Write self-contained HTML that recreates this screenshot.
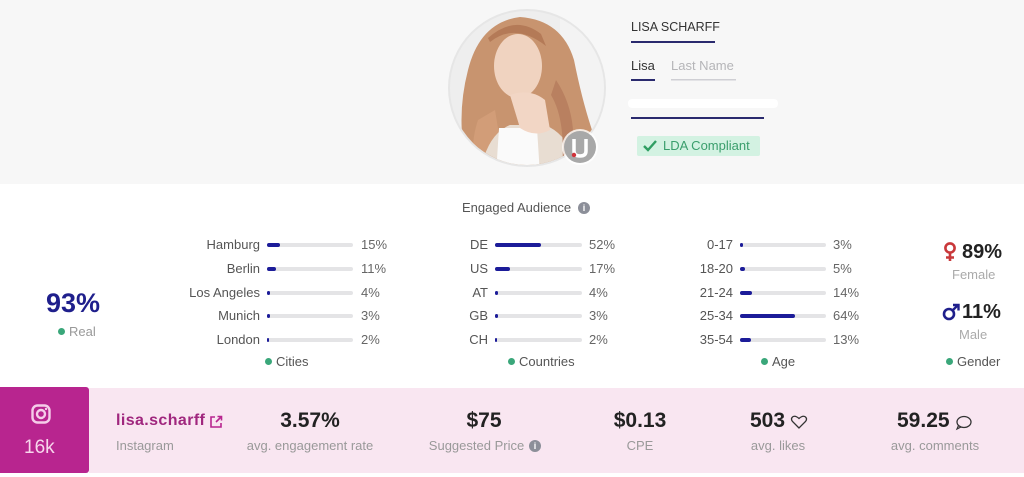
<!DOCTYPE html>
<html><head><meta charset="utf-8">
<style>
*{margin:0;padding:0;box-sizing:border-box}
body{width:1024px;height:477px;overflow:hidden;background:#fff;font-family:"Liberation Sans",Arial,sans-serif;position:relative;color:#555}
.a{position:absolute;white-space:nowrap}
.hdr{position:absolute;left:0;top:0;width:1024px;height:184px;background:#f7f7f7}
.lbl{position:absolute;font-size:13px;color:#555;text-align:right;width:120px;line-height:16px}
.pct{position:absolute;font-size:13px;color:#666;line-height:16px}
.bg{position:absolute;height:4px;background:#e4e4e6;border-radius:2px}
.fg{position:absolute;left:0;top:0;height:4px;background:#1c1c99;border-radius:2px}
.dot{display:inline-block;width:7px;height:7px;border-radius:50%;background:#3aa77a;margin-right:4px;vertical-align:1px}
.leg{position:absolute;font-size:13px;color:#555;line-height:16px}
.big{position:absolute;font-weight:bold;color:#222;text-align:center;line-height:24px}
.sub{position:absolute;font-size:13px;color:#999;text-align:center;line-height:16px}
</style></head><body>
<div class="hdr"></div>

<svg class="a" style="left:0;top:0" width="1024" height="184">
<defs><clipPath id="c"><circle cx="527" cy="88" r="77"/></clipPath></defs>
<circle cx="527" cy="88" r="79" fill="#e6e6e6"/>
<g clip-path="url(#c)">
<rect x="440" y="0" width="180" height="180" fill="#eeeeee"/>
<rect x="560" y="10" width="70" height="160" fill="#f3f3f3"/>
<path d="M468 170 Q455 120 468 70 Q480 22 520 17 Q562 20 574 60 Q582 100 592 130 Q602 160 588 175 Z" fill="#c8946f"/>
<path d="M478 120 Q468 150 478 175 L505 175 Q500 140 495 110 Z" fill="#d29d78"/>
<ellipse cx="518" cy="66" rx="24" ry="32" fill="#f0d3c0"/>
<path d="M490 42 Q515 22 546 46 L541 34 Q515 14 488 38 Z" fill="#b47a57"/>
<path d="M480 175 Q486 135 510 125 L545 125 Q570 135 582 175 Z" fill="#e8ddd2"/>
<path d="M496 175 L499 128 L537 128 L540 175 Z" fill="#fafafa"/>
<path d="M510 95 Q530 88 545 100 L550 130 Q535 138 520 128 Z" fill="#f2d6c5"/>
<path d="M556 80 Q576 110 573 150 L562 170 Q566 120 551 95 Z" fill="#b98060"/>
</g>
<circle cx="580" cy="147" r="18" fill="#fff" opacity=".8"/>
<circle cx="580" cy="147" r="16" fill="#a8a8a8"/>
<path d="M574 139 L574 151 Q574 156 580 156 Q586 156 586 151 L586 139" stroke="#fff" stroke-width="3.5" fill="none"/>
<circle cx="574" cy="155" r="2.2" fill="#d0323a"/>
<rect x="631" y="41" width="84" height="2" fill="#2a2a6e"/>
<rect x="631" y="79" width="24" height="2" fill="#2a2a6e"/>
<rect x="671" y="79" width="65" height="1.5" fill="#cfcfd4"/>
<rect x="628" y="99" width="150" height="9" rx="4" fill="#ffffff"/>
<rect x="631" y="117" width="133" height="2" fill="#2a2a6e"/>
<rect x="637" y="136" width="123" height="20" rx="2" fill="#d3f2e2"/>
<path d="M644 146 L648 150 L656 141" stroke="#2f9e62" stroke-width="2.4" fill="none"/>
</svg>
<div class="a" style="left:631px;top:20px;font-size:12.5px;color:#333">LISA SCHARFF</div>
<div class="a" style="left:631px;top:58px;font-size:13px;color:#333">Lisa</div>
<div class="a" style="left:671px;top:58px;font-size:13px;color:#b5b5b8">Last Name</div>
<div class="a" style="left:663px;top:138px;font-size:13px;color:#3a9e6c">LDA Compliant</div>

<div class="a" style="left:462px;top:200px;font-size:13px;color:#555">Engaged Audience</div>
<div class="a" style="left:578px;top:202px;width:12px;height:12px;border-radius:50%;background:#8c8f99;color:#fff;font-size:9px;font-weight:bold;text-align:center;line-height:12px">i</div>

<!-- Real -->
<div class="a" style="left:46px;top:288px;font-size:27px;font-weight:bold;color:#1f1f8c">93%</div>
<div class="a" style="left:58px;top:324px;font-size:13px;color:#999"><span class="dot"></span>Real</div>

<!-- Cities -->
<div class="lbl" style="left:140px;top:237px">Hamburg</div>
<div class="lbl" style="left:140px;top:261px">Berlin</div>
<div class="lbl" style="left:140px;top:285px">Los Angeles</div>
<div class="lbl" style="left:140px;top:308px">Munich</div>
<div class="lbl" style="left:140px;top:332px">London</div>
<div class="bg" style="left:267px;top:243px;width:86px"><div class="fg" style="width:13px"></div></div>
<div class="bg" style="left:267px;top:267px;width:86px"><div class="fg" style="width:9px"></div></div>
<div class="bg" style="left:267px;top:291px;width:86px"><div class="fg" style="width:3px"></div></div>
<div class="bg" style="left:267px;top:314px;width:86px"><div class="fg" style="width:3px"></div></div>
<div class="bg" style="left:267px;top:338px;width:86px"><div class="fg" style="width:2px"></div></div>
<div class="pct" style="left:361px;top:237px">15%</div>
<div class="pct" style="left:361px;top:261px">11%</div>
<div class="pct" style="left:361px;top:285px">4%</div>
<div class="pct" style="left:361px;top:308px">3%</div>
<div class="pct" style="left:361px;top:332px">2%</div>
<div class="leg" style="left:265px;top:354px"><span class="dot"></span>Cities</div>

<!-- Countries -->
<div class="lbl" style="left:368px;top:237px">DE</div>
<div class="lbl" style="left:368px;top:261px">US</div>
<div class="lbl" style="left:368px;top:285px">AT</div>
<div class="lbl" style="left:368px;top:308px">GB</div>
<div class="lbl" style="left:368px;top:332px">CH</div>
<div class="bg" style="left:495px;top:243px;width:87px"><div class="fg" style="width:46px"></div></div>
<div class="bg" style="left:495px;top:267px;width:87px"><div class="fg" style="width:15px"></div></div>
<div class="bg" style="left:495px;top:291px;width:87px"><div class="fg" style="width:3px"></div></div>
<div class="bg" style="left:495px;top:314px;width:87px"><div class="fg" style="width:3px"></div></div>
<div class="bg" style="left:495px;top:338px;width:87px"><div class="fg" style="width:2px"></div></div>
<div class="pct" style="left:589px;top:237px">52%</div>
<div class="pct" style="left:589px;top:261px">17%</div>
<div class="pct" style="left:589px;top:285px">4%</div>
<div class="pct" style="left:589px;top:308px">3%</div>
<div class="pct" style="left:589px;top:332px">2%</div>
<div class="leg" style="left:508px;top:354px"><span class="dot"></span>Countries</div>

<!-- Age -->
<div class="lbl" style="left:613px;top:237px">0-17</div>
<div class="lbl" style="left:613px;top:261px">18-20</div>
<div class="lbl" style="left:613px;top:285px">21-24</div>
<div class="lbl" style="left:613px;top:308px">25-34</div>
<div class="lbl" style="left:613px;top:332px">35-54</div>
<div class="bg" style="left:740px;top:243px;width:86px"><div class="fg" style="width:3px"></div></div>
<div class="bg" style="left:740px;top:267px;width:86px"><div class="fg" style="width:5px"></div></div>
<div class="bg" style="left:740px;top:291px;width:86px"><div class="fg" style="width:12px"></div></div>
<div class="bg" style="left:740px;top:314px;width:86px"><div class="fg" style="width:55px"></div></div>
<div class="bg" style="left:740px;top:338px;width:86px"><div class="fg" style="width:11px"></div></div>
<div class="pct" style="left:833px;top:237px">3%</div>
<div class="pct" style="left:833px;top:261px">5%</div>
<div class="pct" style="left:833px;top:285px">14%</div>
<div class="pct" style="left:833px;top:308px">64%</div>
<div class="pct" style="left:833px;top:332px">13%</div>
<div class="leg" style="left:761px;top:354px"><span class="dot"></span>Age</div>

<!-- Gender -->
<svg class="a" style="left:940px;top:240px" width="22" height="24"><circle cx="10" cy="8" r="4.6" fill="none" stroke="#c9383a" stroke-width="2.6"/><path d="M10 12.5 V21 M6 17.5 H14" stroke="#c9383a" stroke-width="2.6"/></svg>
<div class="a" style="left:962px;top:240px;font-size:20px;font-weight:bold;color:#222;line-height:24px">89%</div>
<div class="a" style="left:952px;top:267px;font-size:13px;color:#aaa">Female</div>
<svg class="a" style="left:940px;top:300px" width="22" height="24"><circle cx="9" cy="14" r="5" fill="none" stroke="#1f1f8c" stroke-width="2.6"/><path d="M12.5 10.5 L18 5 M13 5 H18.5 V10.5" fill="none" stroke="#1f1f8c" stroke-width="2.4"/></svg>
<div class="a" style="left:962px;top:300px;font-size:20px;font-weight:bold;color:#222;line-height:24px">11%</div>
<div class="a" style="left:959px;top:327px;font-size:13px;color:#aaa">Male</div>
<div class="leg" style="left:946px;top:354px"><span class="dot"></span>Gender</div>

<!-- bottom band -->
<div class="a" style="left:89px;top:388px;width:935px;height:85px;background:#f9e6f1"></div>
<div class="a" style="left:0;top:387px;width:89px;height:86px;background:#b8258f;border-radius:0 3px 3px 0"></div>
<svg class="a" style="left:31px;top:404px" width="20" height="20"><rect x="1.5" y="1.5" width="17" height="17" rx="5" fill="none" stroke="#f5cde9" stroke-width="2.4"/><circle cx="10" cy="10" r="4" fill="none" stroke="#f5cde9" stroke-width="2.4"/><circle cx="15" cy="5" r="1.2" fill="#f5cde9"/></svg>
<div class="a" style="left:24px;top:437px;font-size:19px;color:#f7d6ec">16k</div>

<div class="a" style="left:116px;top:412px;font-size:16px;font-weight:bold;color:#a0277e;letter-spacing:.4px">lisa.scharff</div>
<svg class="a" style="left:209px;top:415px" width="14" height="14"><path d="M6 2 H2 V12 H12 V8" fill="none" stroke="#b8258f" stroke-width="1.6"/><path d="M7 7 L12.5 1.5 M8.5 1.5 H12.5 V5.5" fill="none" stroke="#b8258f" stroke-width="1.6"/></svg>
<div class="a" style="left:116px;top:438px;font-size:13px;color:#999">Instagram</div>

<div class="big" style="left:230px;top:409px;width:160px;font-size:21px">3.57%</div>
<div class="sub" style="left:220px;top:438px;width:180px">avg. engagement rate</div>

<div class="big" style="left:404px;top:409px;width:160px;font-size:21px">$75</div>
<div class="sub" style="left:414px;top:438px;width:125px">Suggested Price</div>
<div class="a" style="left:529px;top:440px;width:12px;height:12px;border-radius:50%;background:#8c8f99;color:#fff;font-size:9px;font-weight:bold;text-align:center;line-height:12px">i</div>

<div class="big" style="left:560px;top:409px;width:160px;font-size:21px">$0.13</div>
<div class="sub" style="left:560px;top:438px;width:160px">CPE</div>

<div class="a" style="left:750px;top:409px;font-size:21px;font-weight:bold;color:#222;line-height:24px">503</div>
<svg class="a" style="left:790px;top:414px" width="18" height="16"><path d="M9 14 L2.5 7.5 Q0.5 5 2.5 3 Q5 1 9 4.5 Q13 1 15.5 3 Q17.5 5 15.5 7.5 Z" fill="none" stroke="#333" stroke-width="1.3"/></svg>
<div class="sub" style="left:698px;top:438px;width:160px">avg. likes</div>

<div class="a" style="left:897px;top:409px;font-size:21px;font-weight:bold;color:#222;line-height:24px">59.25</div>
<svg class="a" style="left:955px;top:415px" width="18" height="16"><ellipse cx="9" cy="7" rx="7" ry="5.5" fill="none" stroke="#333" stroke-width="1.3"/><path d="M3.5 10.5 L2 14 L6 12" fill="none" stroke="#333" stroke-width="1.2"/></svg>
<div class="sub" style="left:855px;top:438px;width:160px">avg. comments</div>
</body></html>
